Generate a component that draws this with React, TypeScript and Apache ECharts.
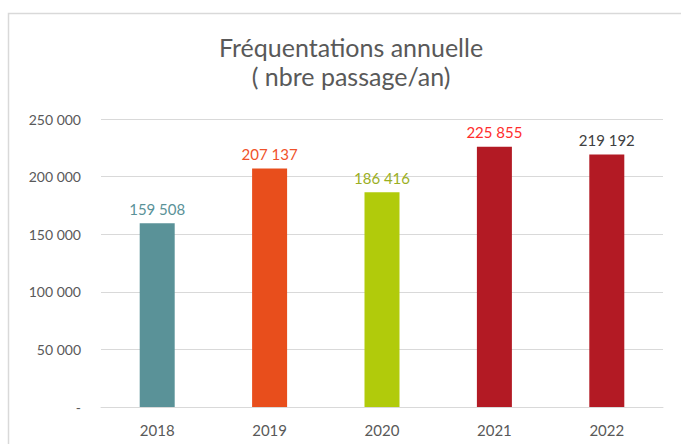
import React, { useEffect, useRef } from "react";
import * as echarts from "echarts";

const categories = ["2018", "2019", "2020", "2021", "2022"];
const values = [159508, 207137, 186416, 225855, 219192];
const barColors = ["#5A9298", "#E84E1C", "#B1CB0B", "#B31A24", "#B31A24"];
const labelColors = ["#5A9298", "#F0522A", "#9BAF23", "#FF2D2D", "#404040"];
const titleLines = ["Fréquentations annuelle", "( nbre passage/an)"];

const fmt = (v: number) =>
  v === 0 ? "-" : String(v).replace(/\B(?=(\d{3})+(?!\d))/g, " ");

export default function App() {
  const ref = useRef<HTMLDivElement>(null);
  useEffect(() => {
    const chart = echarts.init(ref.current!, null, { renderer: "svg" });
    const font = "Lato, 'Open Sans', sans-serif";
    chart.setOption({
      animation: false,
      backgroundColor: "#ffffff",
      textStyle: { fontFamily: font },
      graphic: [
        {
          type: "rect",
          shape: { x: 8.5, y: 13.5, width: 700, height: 500 },
          style: { fill: "none", stroke: "#D9D9D9", lineWidth: 1.5 },
          silent: true,
        },
      ],
      title: {
        text: titleLines.join("\n"),
        left: 346,
        textAlign: "center",
        top: 27,
        textStyle: {
          fontFamily: font,
          fontSize: 25,
          fontWeight: "normal",
          color: "#595959",
          lineHeight: 29,
        },
      },
      grid: { left: 101, right: 18, top: 119, bottom: 37, containLabel: false },
      xAxis: {
        type: "category",
        data: categories,
        axisLine: { lineStyle: { color: "#D9D9D9", width: 1 } },
        axisTick: { show: false },
        axisLabel: { color: "#595959", fontSize: 15, margin: 15, fontFamily: font },
      },
      yAxis: {
        type: "value",
        min: 0,
        max: 250000,
        interval: 50000,
        axisLine: { show: false },
        axisTick: { show: false },
        splitLine: { lineStyle: { color: "#D9D9D9", width: 1 } },
        axisLabel: {
          color: "#595959",
          fontSize: 14,
          margin: 20,
          fontFamily: font,
          formatter: (v: number) => fmt(v),
        },
      },
      series: [
        {
          type: "bar",
          barWidth: 35,
          data: values.map((v, i) => ({
            value: v,
            itemStyle: { color: barColors[i] },
            label: { color: labelColors[i] },
          })),
          label: {
            show: true,
            position: "top",
            distance: 7,
            fontSize: 15,
            fontFamily: font,
            formatter: (p: any) => fmt(p.value),
          },
        },
      ],
    });
    return () => chart.dispose();
  }, []);
  return (
    <div
      ref={ref}
      style={{ position: "fixed", left: 0, top: 0, width: 681, height: 444 }}
    />
  );
}
